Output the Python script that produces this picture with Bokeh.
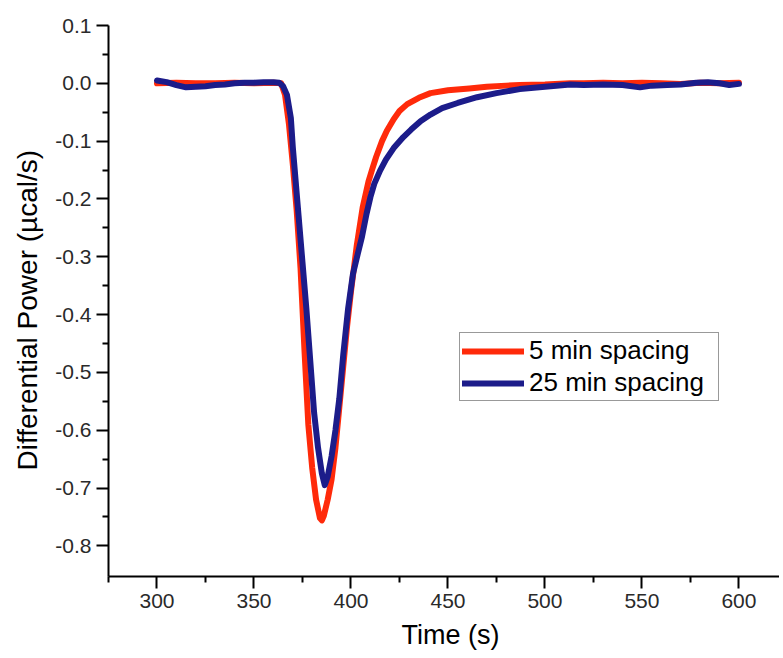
from bokeh.plotting import figure
from bokeh.models import Legend, LegendItem, Range1d, FixedTicker, Title, CustomJSTickFormatter
from bokeh.embed import file_html
from bokeh.resources import INLINE

# ---- data ----
t_5min = [300, 310, 320, 330, 340, 350, 360, 364, 366, 368, 370, 372, 374, 376, 378,
          380, 382, 384, 385, 386, 388, 390, 392, 394, 396, 398, 400, 403, 406, 409,
          411, 413, 416, 418.5, 422, 425, 429, 435, 441, 450, 461, 470, 480, 487, 500,
          513, 520, 530, 540, 550, 560, 570, 580, 590, 600]
p_5min = [0.0, 0.001, 0.0, 0.0, 0.001, 0.0, 0.001, 0.0, -0.02, -0.07, -0.14, -0.22, -0.32, -0.46, -0.59,
          -0.665, -0.72, -0.752, -0.756, -0.748, -0.72, -0.685, -0.63, -0.56, -0.49, -0.42, -0.36, -0.28, -0.215, -0.17,
          -0.148, -0.127, -0.1, -0.082, -0.062, -0.048, -0.036, -0.025, -0.017, -0.012, -0.009, -0.006, -0.004, -0.003, -0.002,
          0.0, 0.0, 0.001, 0.0, 0.001, 0.0, -0.001, 0.001, 0.0, 0.001]

t_25min = [300, 305, 310, 315, 320, 325, 330, 335, 340, 345, 350, 355, 360, 363, 365,
           367, 369, 370, 371, 373, 375, 377, 379, 381, 383, 385, 386.5, 388, 390, 392,
           394, 396, 398.5, 401, 403.5, 405.7, 408, 410, 412, 415, 418, 422, 427, 431, 436, 441,
           447, 455, 465, 475, 487, 500, 513, 520, 530, 540, 549, 555, 563, 570, 578,
           584, 590, 595, 600]
p_25min = [0.005, 0.002, -0.003, -0.007, -0.006, -0.005, -0.003, -0.002, 0.0, 0.001, 0.001, 0.002, 0.002, 0.001, -0.005,
           -0.02, -0.06, -0.11, -0.15, -0.23, -0.31, -0.39, -0.48, -0.57, -0.63, -0.675, -0.695, -0.68, -0.645, -0.6,
           -0.545, -0.47, -0.39, -0.33, -0.295, -0.265, -0.226, -0.197, -0.174, -0.151, -0.132, -0.112, -0.093, -0.08, -0.065, -0.054,
           -0.043, -0.034, -0.024, -0.017, -0.010, -0.006, -0.002, -0.003, -0.002, -0.003, -0.007, -0.004, -0.003, -0.002, 0.001,
           0.002, 0.0, -0.003, -0.001]

series_labels = ["5 min spacing", "25 min spacing"]
x_ticks = [300, 350, 400, 450, 500, 550, 600]
x_minor = [275, 325, 375, 425, 475, 525, 575]
y_ticks = [0.1, 0.0, -0.1, -0.2, -0.3, -0.4, -0.5, -0.6, -0.7, -0.8]
y_minor = [0.05, -0.05, -0.15, -0.25, -0.35, -0.45, -0.55, -0.65, -0.75]
x_title = "Time (s)"
y_title = "Differential Power (\u00b5cal/s)"

RED = "#ff2a0a"
BLUE = "#1c1c8a"
FONT = "Liberation Sans"

p = figure(width=779, height=658, output_backend="svg", toolbar_location=None,
           x_range=Range1d(275, 620.9), y_range=Range1d(-0.853, 0.1),
           min_border_left=108, min_border_top=25, min_border_bottom=82, min_border_right=0)
p.outline_line_color = None
p.xgrid.visible = False
p.ygrid.visible = False

r1 = p.line(t_5min, p_5min, line_color=RED, line_width=6, line_join="round", line_cap="round")
r2 = p.line(t_25min, p_25min, line_color=BLUE, line_width=6, line_join="round", line_cap="round")

for ax in (p.xaxis[0], p.yaxis[0]):
    ax.axis_line_width = 2
    ax.axis_line_color = "black"
    ax.major_tick_line_width = 2
    ax.minor_tick_line_width = 2
    ax.major_tick_line_color = "black"
    ax.minor_tick_line_color = "black"
    ax.major_tick_out = 12
    ax.major_tick_in = 0
    ax.minor_tick_out = 6
    ax.minor_tick_in = 0
    ax.major_label_text_font = FONT
    ax.major_label_text_font_size = "21px"
    ax.major_label_text_color = "#2a2a2a"
    ax.major_label_standoff = 5

p.xaxis[0].ticker = FixedTicker(ticks=x_ticks, minor_ticks=x_minor)
p.yaxis[0].ticker = FixedTicker(ticks=y_ticks, minor_ticks=y_minor)
p.yaxis[0].formatter = CustomJSTickFormatter(code="return tick.toFixed(1);")

# axis titles as side-panel titles (offset along the axis from its start)
p.add_layout(Title(text=y_title, align="left", offset=106, standoff=19,
                   text_font=FONT, text_font_size="28px", text_font_style="normal",
                   text_color="black"), "left")
p.add_layout(Title(text=x_title, align="left", offset=293, standoff=14,
                   text_font=FONT, text_font_size="27px", text_font_style="normal",
                   text_color="black"), "below")

legend = Legend(items=[LegendItem(label=series_labels[0], renderers=[r1]),
                       LegendItem(label=series_labels[1], renderers=[r2])],
                location=(351, 175), orientation="vertical",
                glyph_width=62, glyph_height=28, label_height=28, label_standoff=5,
                label_width=187, spacing=1, padding=2, margin=0,
                label_text_font=FONT, label_text_font_size="26px", label_text_color="black",
                border_line_color="#333333", border_line_width=1,
                background_fill_color="white", background_fill_alpha=1.0)
p.add_layout(legend, "center")

open("out.html", "w").write(file_html(p, INLINE))
